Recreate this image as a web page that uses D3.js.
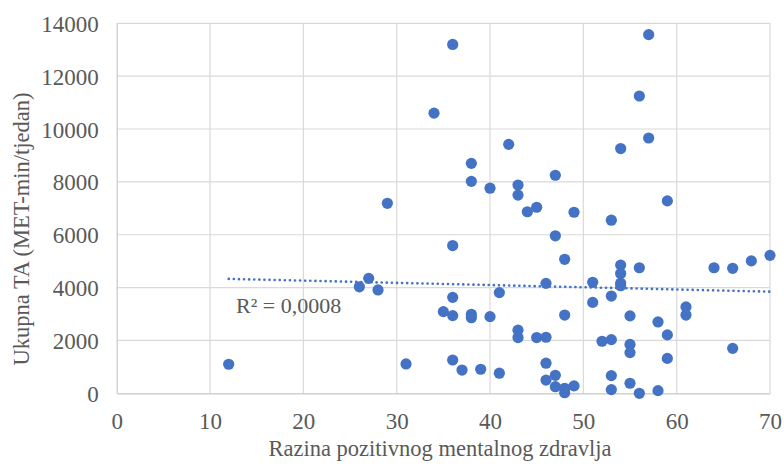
<!DOCTYPE html>
<html>
<head>
<meta charset="utf-8">
<script src="https://cdn.jsdelivr.net/npm/d3@7"></script>
<style>
  html, body { margin: 0; padding: 0; background: #fff; }
  svg { display: block; }
</style>
</head>
<body>
<svg id="chart" width="784" height="466"></svg>
<script>
const xValues = [12,26,27,28,29,31,34,35,36,36,36,36,36,37,38,38,38,38,39,40,40,41,41,42,43,43,43,43,44,45,45,46,46,46,46,47,47,47,47,48,48,48,48,49,49,51,51,52,53,53,53,53,53,54,54,54,54,54,55,55,55,55,56,56,56,57,57,58,58,59,59,59,61,61,64,66,66,68,70];
const yValues = [1100,4030,4350,3910,7190,1110,10600,3090,13200,5590,3630,2940,1260,880,8700,8020,2990,2860,910,7760,2900,3810,760,9420,7880,7500,2390,2110,6870,7040,2110,4160,2120,1140,500,8250,5960,680,250,5070,2960,190,20,6850,280,4200,3440,1970,6550,3680,2030,670,140,9260,4850,4530,4170,4070,2930,1850,1540,380,11250,4750,0,13570,9660,2700,100,7280,2210,1320,3270,2960,4750,4730,1700,5010,5220];
const trendX = [12, 70];
const trendY = [4330, 3845];
const xTicks = [0,10,20,30,40,50,60,70];
const yTicks = [0,2000,4000,6000,8000,10000,12000,14000];
const xTitle = "Razina pozitivnog mentalnog zdravlja";
const yTitle = "Ukupna TA (MET-min/tjedan)";
const rLabel = "R² = 0,0008";

const FONT = "Liberation Serif, Times New Roman, serif";
const GREY = "#595959";
const svg = d3.select("#chart");
const m = {left: 116.7, right: 770, top: 23.3, bottom: 393.3};
const x = d3.scaleLinear().domain([0,70]).range([m.left, m.right]);
const y = d3.scaleLinear().domain([0,14000]).range([m.bottom, m.top]);

// gridlines
svg.append("g").selectAll("line").data(yTicks.filter(d => d > 0)).join("line")
  .attr("x1", m.left).attr("x2", m.right)
  .attr("y1", d => y(d)).attr("y2", d => y(d))
  .attr("stroke", "#d9d9d9").attr("stroke-width", 1.2);
svg.append("g").selectAll("line").data(xTicks.filter(d => d > 0)).join("line")
  .attr("x1", d => x(d)).attr("x2", d => x(d))
  .attr("y1", m.top).attr("y2", m.bottom)
  .attr("stroke", "#d9d9d9").attr("stroke-width", 1.2);

// axes
const xAxis = d3.axisBottom(x).tickValues(xTicks).tickSize(0).tickPadding(18).tickFormat(d3.format("d"));
const yAxis = d3.axisLeft(y).tickValues(yTicks).tickSize(0).tickPadding(18).tickFormat(d3.format("d"));
const gx = svg.append("g").attr("transform", `translate(0,${m.bottom})`).call(xAxis);
const gy = svg.append("g").attr("transform", `translate(${m.left},0)`).call(yAxis);
[gx, gy].forEach(g => {
  g.attr("font-family", FONT).attr("font-size", 23);
  g.select(".domain").attr("stroke", "#d0d0d0").attr("stroke-width", 1.4);
  g.selectAll(".tick text").attr("fill", GREY).attr("font-family", FONT).attr("font-size", 23);
});
gx.selectAll(".tick text").attr("dy", "0.35em").attr("y", 28);
gy.selectAll(".tick text").attr("dy", "0.35em");

// trendline
svg.append("line")
  .attr("x1", x(trendX[0])).attr("y1", y(trendY[0]))
  .attr("x2", x(trendX[1])).attr("y2", y(trendY[1]))
  .attr("stroke", "#4472c4").attr("stroke-width", 2.6)
  .attr("stroke-linecap", "round").attr("stroke-dasharray", "0.1 5");

// points
const pts = xValues.map((v, i) => ({x: v, y: yValues[i]}));
svg.append("g").selectAll("circle").data(pts).join("circle")
  .attr("cx", d => x(d.x)).attr("cy", d => y(d.y)).attr("r", 5.6)
  .attr("fill", "#4472c4");

// R² label
svg.append("text").attr("x", 236).attr("y", 313).attr("font-size", 22)
  .attr("font-family", FONT).attr("fill", GREY).text(rLabel);

// axis titles
svg.append("text").attr("x", 440).attr("y", 456).attr("text-anchor", "middle")
  .attr("font-family", FONT).attr("fill", GREY).attr("font-size", 22.5).text(xTitle);
svg.append("text").attr("transform", "translate(29,229) rotate(-90)")
  .attr("text-anchor", "middle").attr("font-family", FONT).attr("fill", GREY)
  .attr("font-size", 22.5).text(yTitle);
</script>
</body>
</html>
